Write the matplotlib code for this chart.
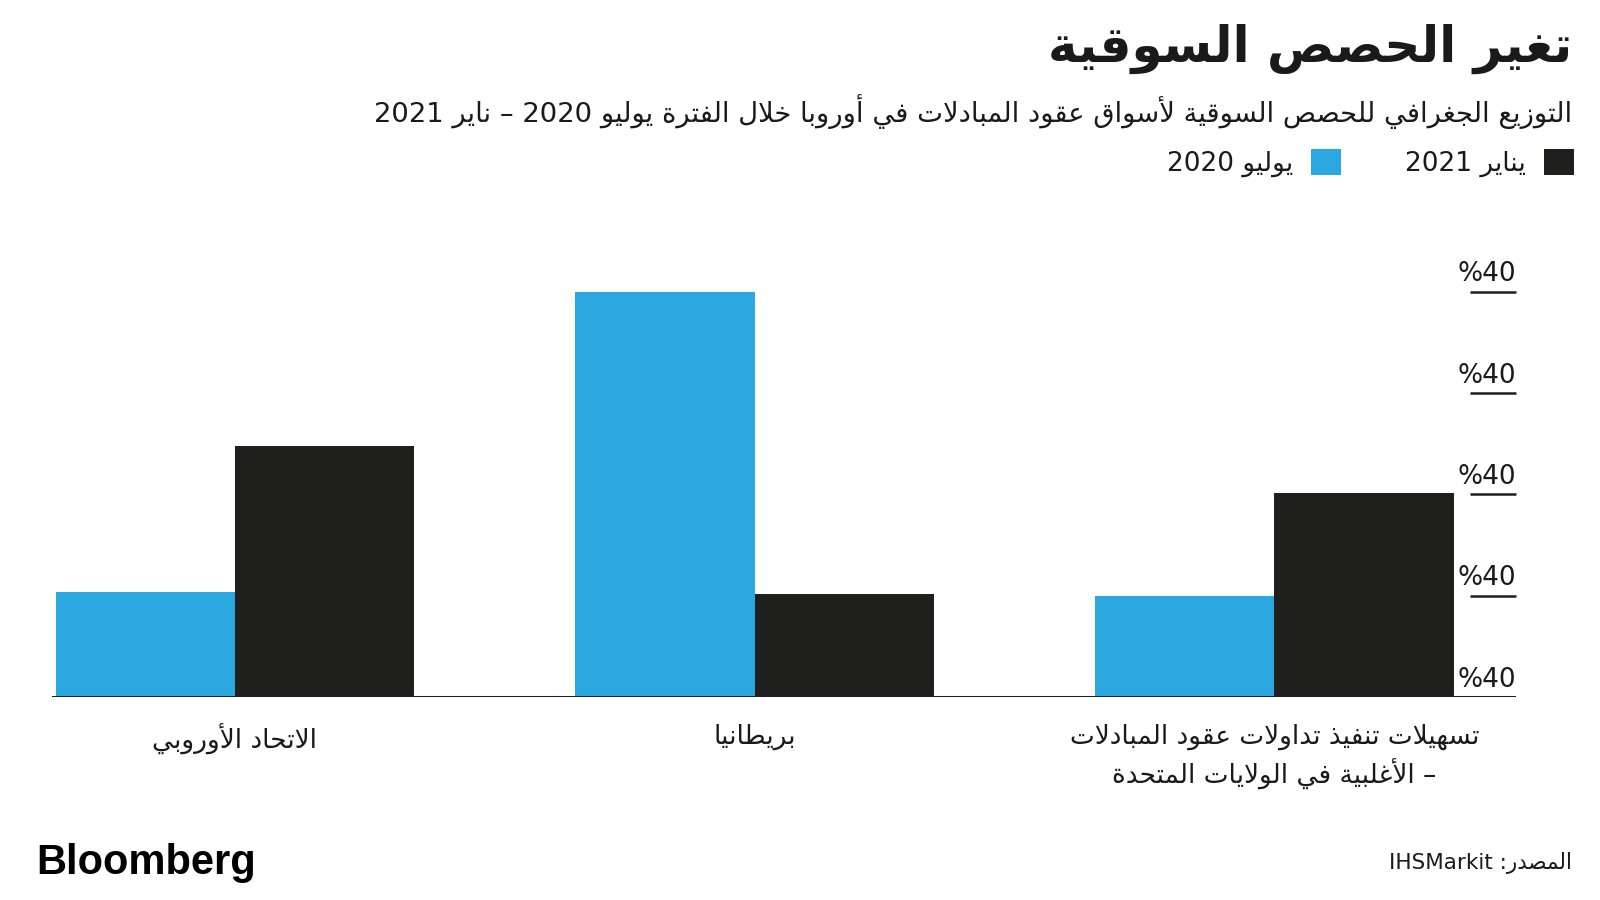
import re

import numpy as np
import matplotlib
matplotlib.use("Agg")
import matplotlib.pyplot as plt

# ---------------------------------------------------------------------------
# data
# ---------------------------------------------------------------------------
CATS = ["الاتحاد الأوروبي", "بريطانيا",
        "تسهيلات تنفيذ تداولات عقود المبادلات\n– الأغلبية في الولايات المتحدة"]
JUL_2020 = [10.4, 40.0, 10.0]
JAN_2021 = [24.8, 10.2, 20.1]
SERIES = ["يوليو 2020", "يناير 2021"]
YTICKS = [0, 10, 20, 30, 40]
YTICK_LABELS = ["%40", "%40", "%40", "%40", "%40"]

TITLE = "تغير الحصص السوقية"
SUBTITLE = "التوزيع الجغرافي للحصص السوقية لأسواق عقود المبادلات في أوروبا خلال الفترة يوليو 2020 – ناير 2021"
SOURCE = "المصدر: IHSMarkit"

BLUE = "#2ca8e0"
BLACK = "#1f1f1d"
INK = "#1a1a1a"

# ---------------------------------------------------------------------------
# minimal Arabic shaping + right-to-left ordering (matplotlib does neither)
# ---------------------------------------------------------------------------
_FORMS = {
    "ء": (0xFE80, 1), "آ": (0xFE81, 2), "أ": (0xFE83, 2), "ؤ": (0xFE85, 2),
    "إ": (0xFE87, 2), "ئ": (0xFE89, 4), "ا": (0xFE8D, 2), "ب": (0xFE8F, 4),
    "ة": (0xFE93, 2), "ت": (0xFE95, 4), "ث": (0xFE99, 4), "ج": (0xFE9D, 4),
    "ح": (0xFEA1, 4), "خ": (0xFEA5, 4), "د": (0xFEA9, 2), "ذ": (0xFEAB, 2),
    "ر": (0xFEAD, 2), "ز": (0xFEAF, 2), "س": (0xFEB1, 4), "ش": (0xFEB5, 4),
    "ص": (0xFEB9, 4), "ض": (0xFEBD, 4), "ط": (0xFEC1, 4), "ظ": (0xFEC5, 4),
    "ع": (0xFEC9, 4), "غ": (0xFECD, 4), "ف": (0xFED1, 4), "ق": (0xFED5, 4),
    "ك": (0xFED9, 4), "ل": (0xFEDD, 4), "م": (0xFEE1, 4), "ن": (0xFEE5, 4),
    "ه": (0xFEE9, 4), "و": (0xFEED, 2), "ى": (0xFEEF, 2), "ي": (0xFEF1, 4),
}
_LAM_ALEF = {"آ": 0xFEF5, "أ": 0xFEF7, "إ": 0xFEF9, "ا": 0xFEFB}


def shape(s):
    units = []  # (kind, char)
    i = 0
    while i < len(s):
        c = s[i]
        if c == "ل" and i + 1 < len(s) and s[i + 1] in _LAM_ALEF:
            units.append(("la", s[i + 1])); i += 2; continue
        units.append(("ch", c)); i += 1

    def joins(u):
        return u[0] == "la" or (u[1] in _FORMS and _FORMS[u[1]][1] > 1)

    def dual(u):
        return u[0] == "ch" and u[1] in _FORMS and _FORMS[u[1]][1] == 4

    out = []
    for k, u in enumerate(units):
        prev_ok = k > 0 and dual(units[k - 1]) and joins(u)
        next_ok = k + 1 < len(units) and dual(u) and joins(units[k + 1])
        if u[0] == "la":
            out.append(chr(_LAM_ALEF[u[1]] + (1 if prev_ok else 0)))
        elif u[1] in _FORMS:
            base, n = _FORMS[u[1]]
            if n == 1:
                idx = 0
            elif n == 2:
                idx = 1 if prev_ok else 0
            else:
                idx = 3 if (prev_ok and next_ok) else 1 if prev_ok else 2 if next_ok else 0
            out.append(chr(base + idx))
        else:
            out.append(u[1])
    return "".join(out)


def rtl(text):
    lines = []
    for line in text.split("\n"):
        if not re.search("[\u0600-\u06ff]", line):
            lines.append(line); continue
        runs = re.findall(r"[A-Za-z0-9]+|[^A-Za-z0-9]+", shape(line))
        vis = [r if re.match(r"[A-Za-z0-9]", r) else r[::-1] for r in runs]
        lines.append("".join(vis[::-1]))
    return "\n".join(lines)


# ---------------------------------------------------------------------------
# figure
# ---------------------------------------------------------------------------
plt.rcParams.update({"font.family": ["DejaVu Sans"], "text.color": INK})
fig = plt.figure(figsize=(16, 9), dpi=100)
ax = fig.add_axes([0.0325, 0.2256, 0.915, 0.4502])

x = np.arange(len(CATS))
w = 0.345
b1 = ax.bar(x - w / 2, JUL_2020, w, color=BLUE, zorder=2)
b2 = ax.bar(x + w / 2, JAN_2021, w, color=BLACK, zorder=2)

ax.set_xlim(-0.352, 2.465)
ax.set_ylim(0, 40)
for s in ax.spines.values():
    s.set_visible(False)
ax.set_yticks([])
ax.axhline(0, color=BLACK, lw=2.2, zorder=3)

# short rule under each right-hand label
yt = ax.get_yaxis_transform()
ax.hlines(YTICKS[1:], 0.9686, 1.0, transform=yt, color=BLACK, lw=1.8, clip_on=False)
for v, lab in zip(YTICKS, YTICK_LABELS):
    ax.annotate(lab, xy=(1.0, v), xycoords=yt, xytext=(0, 7.5),
                textcoords="offset points", ha="right", va="baseline",
                fontsize=19, color=INK)

ax.set_xticks(x, [rtl(c) for c in CATS], fontsize=19, color=INK,
              multialignment="center", linespacing=1.35)
ax.tick_params(axis="x", length=0, pad=19)

# header
fig.text(0.9825, 0.9456, rtl(TITLE), ha="right", va="center",
         fontsize=36, fontweight="bold", color=INK)
fig.text(0.9825, 0.8756, rtl(SUBTITLE), ha="right", va="center",
         fontsize=19.7, color=INK)
fig.legend([b1, b2], [rtl(s) for s in SERIES], ncol=2, markerfirst=False,
           loc="center right", bbox_to_anchor=(0.984, 0.819), frameon=False,
           fontsize=19, handlelength=1.15, handleheight=1.15, handletextpad=0.7,
           columnspacing=2.4, borderpad=0, borderaxespad=0)

# footer
fig.text(0.0225, 0.041, "Bloomberg", ha="left", va="center",
         fontsize=30, fontweight="bold", family="Liberation Sans", color="black")
fig.text(0.9825, 0.041, rtl(SOURCE), ha="right", va="center",
         fontsize=15.5, color=INK)

fig.savefig("out.png", dpi=100, facecolor="white")
